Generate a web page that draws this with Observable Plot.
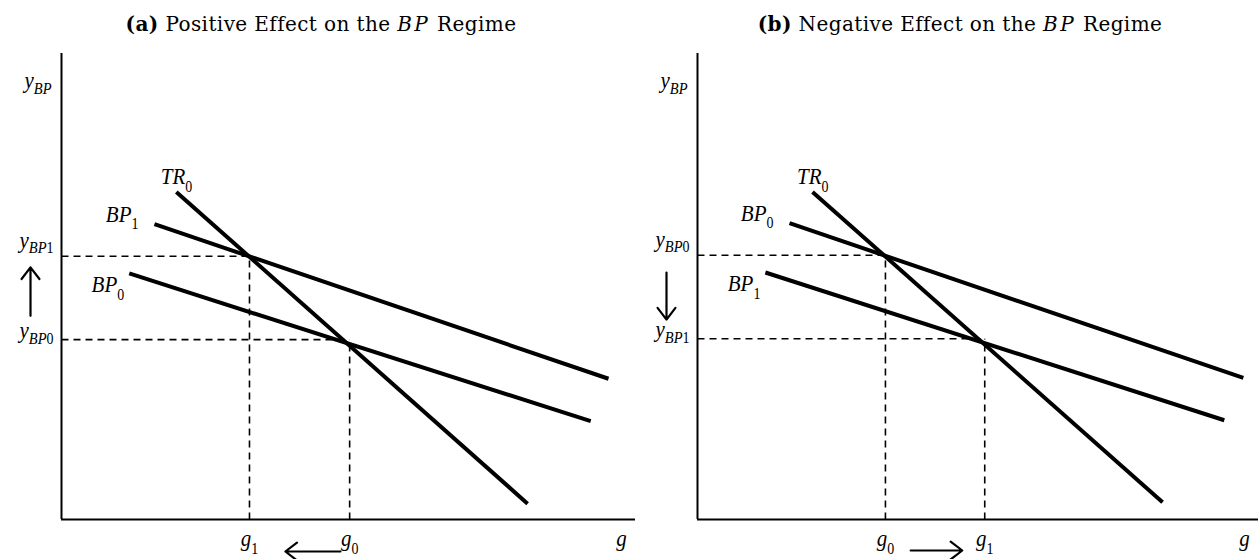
<!DOCTYPE html>
<html><head><meta charset="utf-8">
<script src="https://cdn.jsdelivr.net/npm/d3@7"></script>
<script src="https://cdn.jsdelivr.net/npm/@observablehq/plot@0.6"></script>
<style>
body{margin:0;background:#fff;width:1258px;height:559px;overflow:hidden;position:relative;font-family:"DejaVu Serif",serif}
.plotbox{position:absolute;top:40px}
.title{position:absolute;top:12px;font-size:20px;letter-spacing:0.4px;line-height:24px;white-space:nowrap;color:#000;transform:translateX(-50%)}
.title i{letter-spacing:2.5px}
</style></head><body>
<div class="title" style="left:321px"><b>(a)</b> Positive Effect on the <i>BP</i> Regime</div>
<div class="title" style="left:960px"><b>(b)</b> Negative Effect on the <i>BP</i> Regime</div>
<div id="pa" class="plotbox" style="left:0px"></div>
<div id="pb" class="plotbox" style="left:636px"></div>
<script>
// ---- data: panel (a) ----
const linesA = [
  {name: "TR_0", x1: 20.0, y1: 70.3, x2: 81.2, y2: 3.4},
  {name: "BP_1", x1: 16.2, y1: 63.4, x2: 95.3, y2: 30.2},
  {name: "BP_0", x1: 11.8, y1: 52.8, x2: 92.2, y2: 21.1}
];
const guidesA = [
  {g: "g_1", gv: 32.75, y: "y_BP1", yv: 56.5},
  {g: "g_0", gv: 50.2, y: "y_BP0", yv: 38.6}
];
const yShiftA = [{from: 43.7, to: 54.1}];
const gShiftA = [{from: 48.6, to: 39.0}];

// ---- data: panel (b) ----
const linesB = [
  {name: "TR_0", x1: 20.5, y1: 70.3, x2: 82.9, y2: 3.7},
  {name: "BP_0", x1: 16.4, y1: 63.6, x2: 97.3, y2: 30.4},
  {name: "BP_1", x1: 12.1, y1: 53.0, x2: 93.9, y2: 21.3}
];
const guidesB = [
  {g: "g_0", gv: 33.5, y: "y_BP0", yv: 56.7},
  {g: "g_1", gv: 51.2, y: "y_BP1", yv: 38.8}
];
const yShiftB = [{from: 53.0, to: 42.9}];
const gShiftB = [{from: 38.0, to: 47.2}];

const axisNames = {y: "y_BP", x: "g"};

// ---- styles (label offsets in pixels) ----
const labelOffsets = [
  {dx: 16, dy: -15},  // TR line
  {dx: -16, dy: -10}, // upper BP line
  {dx: -5, dy: 11}    // lower BP line
];
const tickOffsets = [{dy: -16}, {dy: -9}]; // upper, lower y-tick label
const mathFont = {fontFamily: "Liberation Serif", fontStyle: "italic", fontSize: 21, fill: "black"};

function panel(lines, guides, yShift, gShift, width, marginRight, yArrowDx, gArrowDy) {
  const marks = [
    Plot.ruleY([0], {stroke: "black", strokeWidth: 2}),
    Plot.ruleX([0], {stroke: "black", strokeWidth: 2}),
    Plot.link(guides, {x1: d => 0, x2: "gv", y1: "yv", y2: "yv", stroke: "black", strokeWidth: 1.6, strokeDasharray: "7,5"}),
    Plot.link(guides, {x1: "gv", x2: "gv", y1: d => 0, y2: "yv", stroke: "black", strokeWidth: 1.6, strokeDasharray: "7,5"}),
    Plot.link(lines, {x1: "x1", y1: "y1", x2: "x2", y2: "y2", stroke: "black", strokeWidth: 4}),
    ...lines.map((d, i) => Plot.text([d], {x: "x1", y: "y1", text: "name", textAnchor: "end", dx: labelOffsets[i].dx, dy: labelOffsets[i].dy, ...mathFont})),
    Plot.text(guides, {x: "gv", y: d => 0, text: "g", dy: 19, ...mathFont}),
    ...guides.map((d, i) => Plot.text([d], {x: d => 0, y: "yv", text: "y", textAnchor: "end", dx: -8, dy: tickOffsets[i].dy, ...mathFont})),
    Plot.text([axisNames.y], {x: d => 0, y: d => 100, text: d => d, textAnchor: "end", dx: -10, dy: 27, ...mathFont}),
    Plot.text([axisNames.x], {x: d => 100, y: d => 0, text: d => d, dx: -14, dy: 19, ...mathFont}),
    Plot.arrow(yShift, {x1: d => 0, x2: d => 0, y1: "from", y2: "to", dx: yArrowDx, stroke: "black", strokeWidth: 2.2, headLength: 10, headAngle: 75}),
    Plot.arrow(gShift, {x1: "from", x2: "to", y1: d => 0, y2: d => 0, dy: gArrowDy, stroke: "black", strokeWidth: 2.2, headLength: 10, headAngle: 75})
  ];
  const svg = Plot.plot({
    width, height: 519,
    marginLeft: 61, marginRight, marginTop: 13, marginBottom: 40,
    x: {domain: [0, 100], axis: null},
    y: {domain: [0, 100], axis: null},
    style: {maxWidth: "none", background: "white", overflow: "visible"},
    marks
  });
  subscriptify(svg);
  return svg;
}

function subscriptify(svg) {
  d3.select(svg).selectAll("text").each(function() {
    const t = this.textContent;
    const tr = this.getAttribute("transform");
    if (tr) this.setAttribute("transform", tr + " scale(1,1.12)");
    const i = t.indexOf("_");
    if (i < 0) return;
    const main = t.slice(0, i), sub = t.slice(i + 1);
    const sel = d3.select(this);
    while (this.firstChild) this.removeChild(this.firstChild);
    sel.append("tspan").text(main);
    const m = sub.match(/^([A-Za-z]*)(\d*)$/) || [sub, sub, ""];
    if (m[1]) sel.append("tspan").attr("font-size", 14.5).attr("dy", 5).text(m[1]);
    if (m[2]) sel.append("tspan").attr("font-size", 14).attr("font-style", "normal").attr("dy", m[1] ? 0 : 7).text(m[2]);
  });
}

document.getElementById("pa").appendChild(panel(linesA, guidesA, yShiftA, gShiftA, 636, 1, -31, 32));
document.getElementById("pb").appendChild(panel(linesB, guidesB, yShiftB, gShiftB, 622, 0, -31, 31));
</script>
</body></html>
